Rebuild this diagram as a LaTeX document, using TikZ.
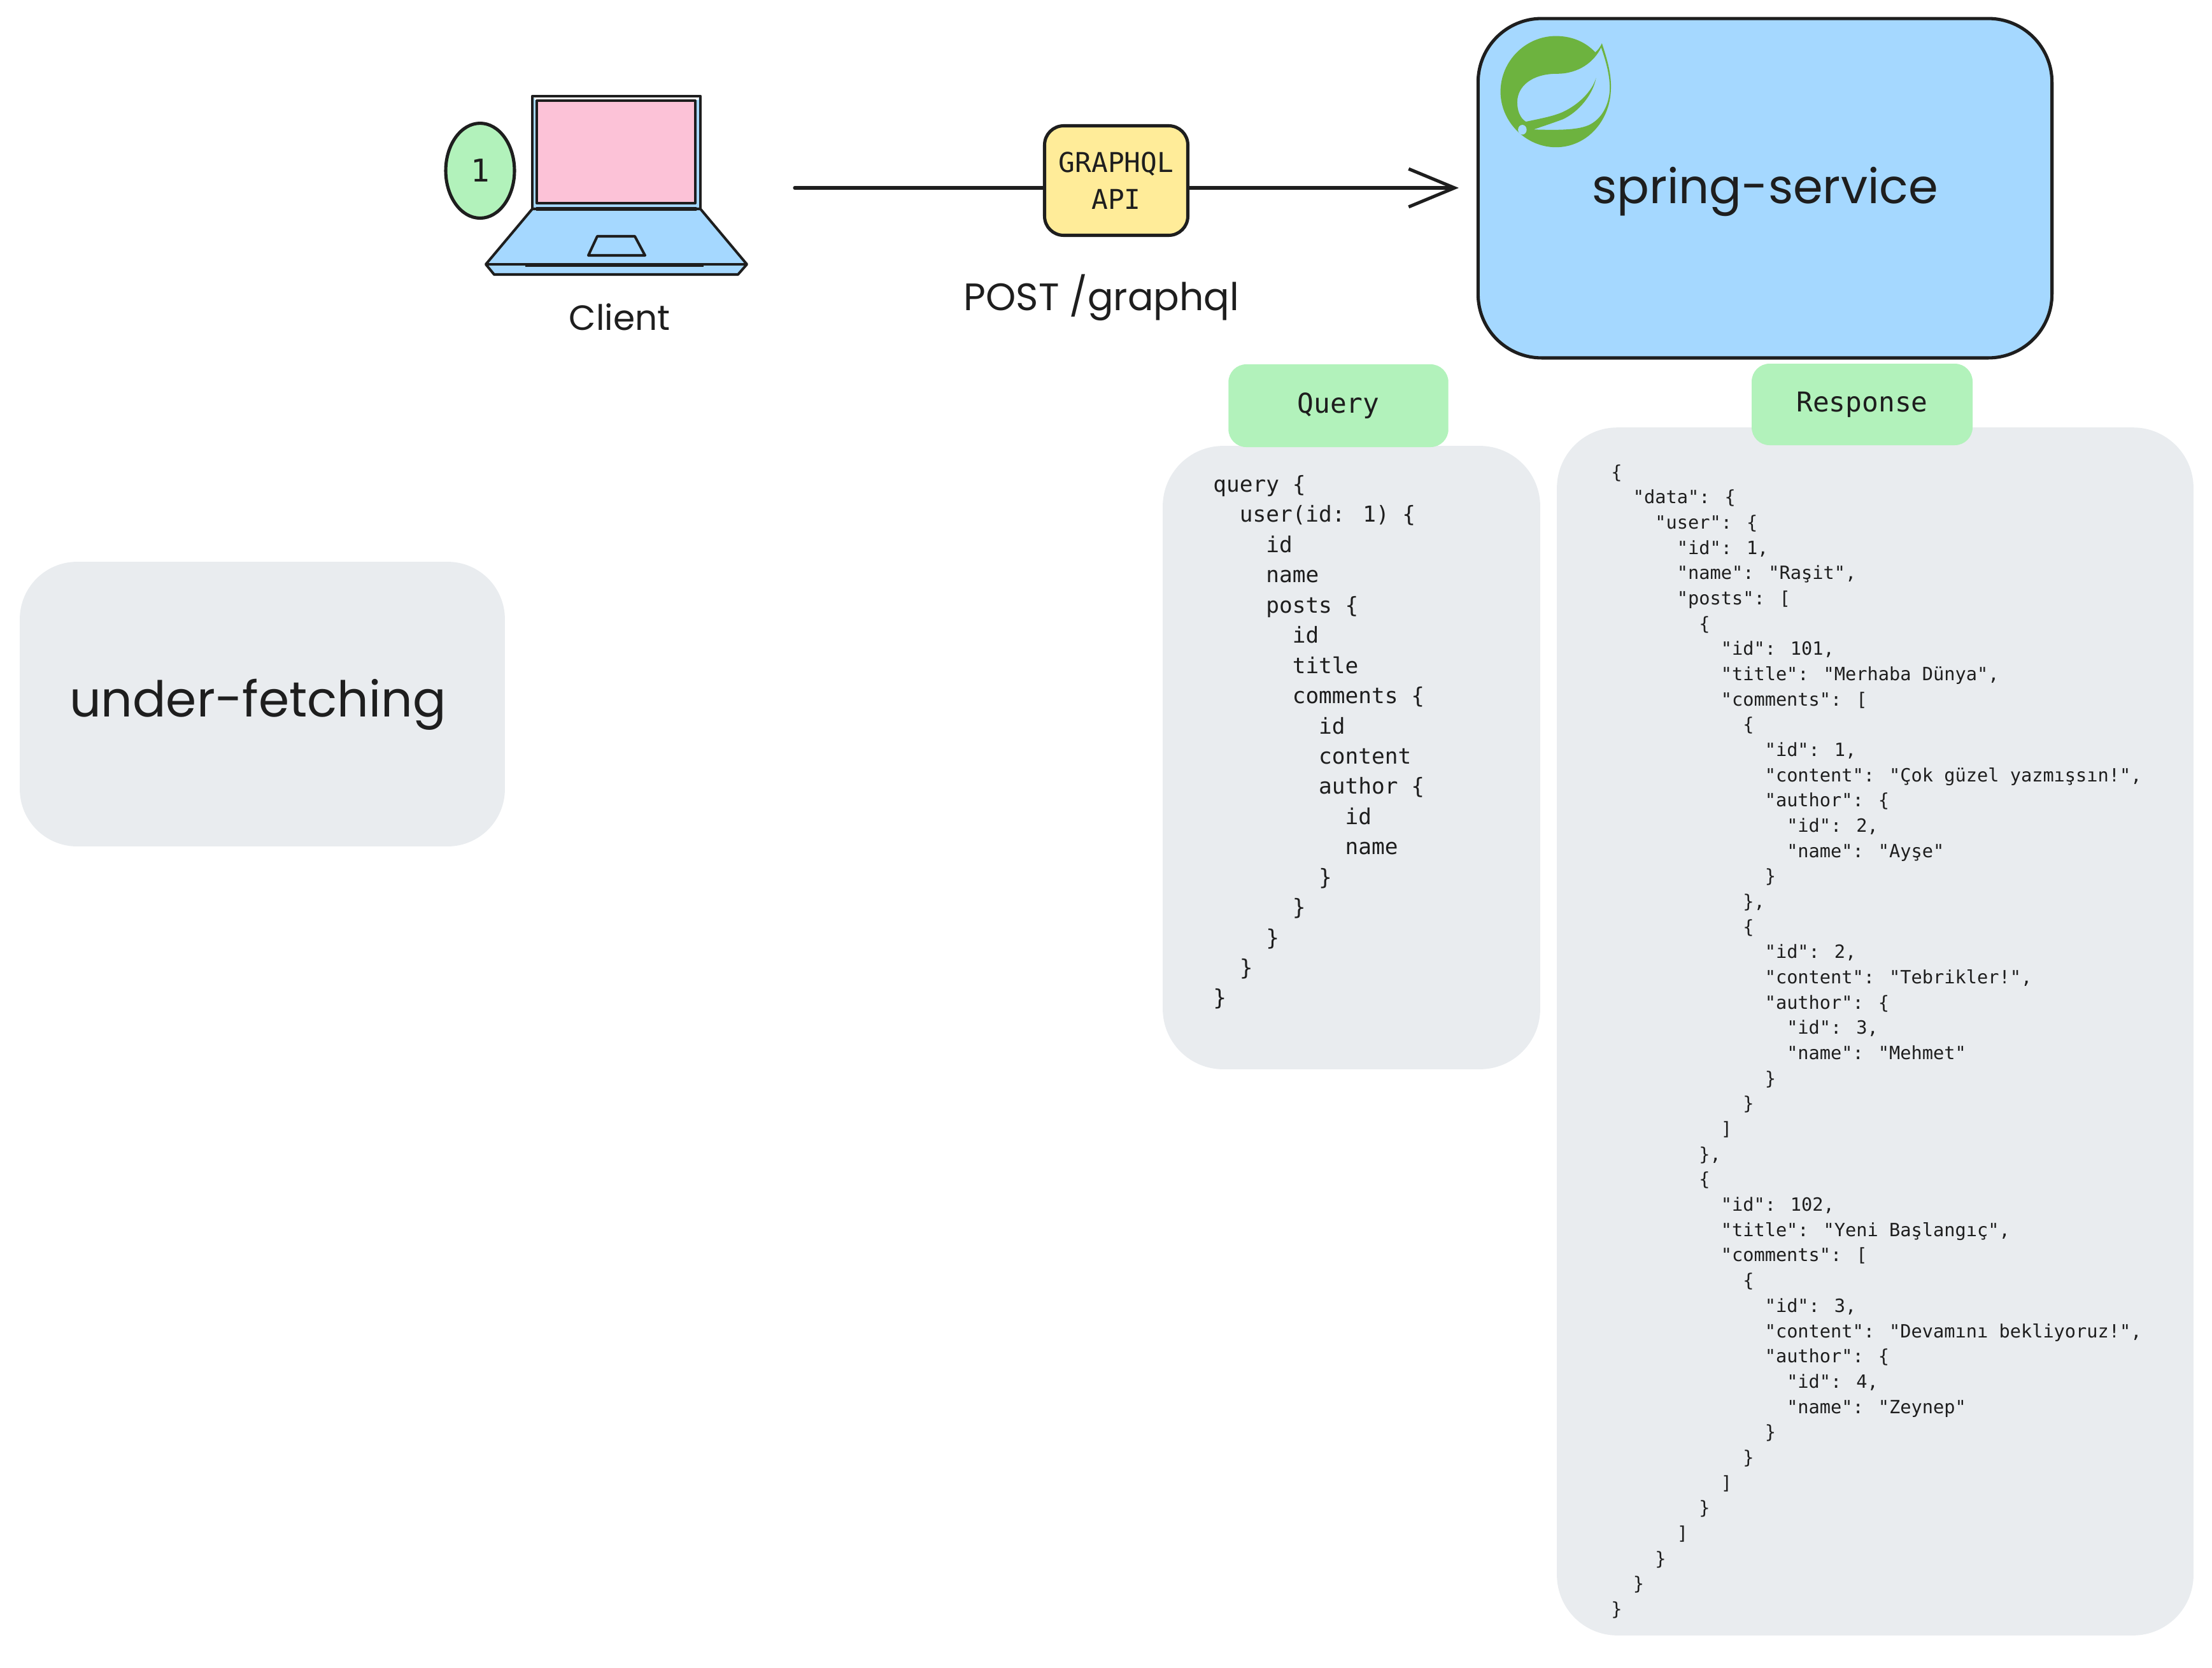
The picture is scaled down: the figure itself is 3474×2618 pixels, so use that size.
\documentclass[tikz,border=0pt]{standalone}
\usepackage{fontspec}
\usetikzlibrary{arrows.meta,shapes.geometric}
\setmainfont{Poppins}
\newfontfamily\codefont{DejaVu Sans Mono}
\definecolor{inkblack}{HTML}{1E1E1E}
\definecolor{skyblue}{HTML}{A5D8FF}
\definecolor{mintgreen}{HTML}{B2F2BB}
\definecolor{panelgray}{HTML}{E9ECEF}
\definecolor{softpink}{HTML}{FCC2D7}
\definecolor{softyellow}{HTML}{FFEC99}
\definecolor{leafgreen}{HTML}{6DB33F}
\newcommand{\tb}[1]{\hspace*{#1\fontcharwd\font`a}}
\tikzset{
  flow/.style={draw=inkblack, line width=2.9pt, line cap=round},
  laptopline/.style={draw=inkblack, line width=2.3pt, line join=round},
  panel/.style={fill=panelgray, inner sep=0pt, rounded corners=1.9cm},
  tagbox/.style={fill=mintgreen, inner sep=0pt, rounded corners=0.56cm, text=inkblack,
    font=\codefont\fontsize{24.4}{33}\selectfont},
  codetext/.style={anchor=north west, inner sep=0pt, align=left, text=inkblack},
  handtext/.style={inner sep=0pt, text=inkblack}
}
\begin{document}
\begin{tikzpicture}[x=0.02cm, y=-0.02cm]
  \useasboundingbox (0,0) rectangle (3474,2618);

  % Drawing the laptop
  \fill[skyblue] (836,154) rectangle (1100,328);
  \fill[white] (840,153) rectangle (1097,157);
  \fill[softpink] (843,158) rectangle (1092,319);
  \draw[laptopline, line width=2.6pt] (836,151) -- (1100,151) -- (1100,328) -- (836,328) -- cycle;
  \draw[laptopline] (843,158) -- (1092,158) -- (1092,319) -- (843,319) -- cycle;
  \draw[laptopline, fill=skyblue] (836,328) -- (1100,328) -- (1173,415) -- (1159,431)
    -- (776,431) -- (763,415) -- cycle;
  \draw[laptopline, line width=3.6pt] (842,328) -- (1094,328);
  \draw[laptopline] (763,415) -- (1173,415);
  \draw[laptopline, line width=1.6pt] (825,418) -- (1105,418);
  \draw[laptopline] (938,371) -- (997,371) -- (1013,401) -- (924,401) -- cycle;

  % Badge and label of the client
  \node[ellipse, draw=inkblack, line width=2.9pt, fill=mintgreen, inner sep=0pt,
    minimum width=2.16cm, minimum height=2.98cm, text=inkblack,
    font=\codefont\fontsize{28}{33}\selectfont] (badge) at (754,268) {1};
  \node[handtext, font=\fontsize{31.3}{36}\selectfont] (clientlabel) at (973,498) {Client};

  % Service box with the leaf on top of it
  \node[fill=skyblue, draw=inkblack, line width=2.9pt, rounded corners=2cm, inner sep=0pt,
    minimum width=18.03cm, minimum height=10.66cm] (service) at (2772,295.5) {};
  \node[handtext, font=\fontsize{42.8}{50}\selectfont] (servicelabel) at (2772,301) {spring-service};
  \begin{scope}[shift={(2280,0)}, x=0.01225cm, y=-0.00765cm]
    \fill[leafgreen, even odd rule]
      (385,178) .. controls (400,250) and (410,310) .. (408,370)
      .. controls (405,500) and (345,605) .. (267,605)
      .. controls (190,605) and (125,500) .. (125,377)
      .. controls (125,250) and (190,148) .. (267,148)
      .. controls (310,148) and (345,175) .. (368,215)
      .. controls (375,205) and (380,195) .. (385,178) -- cycle
      (383,195) .. controls (365,255) and (325,303) .. (270,303)
      .. controls (205,303) and (168,355) .. (168,420)
      .. controls (168,455) and (175,485) .. (190,500)
      .. controls (225,488) and (260,478) .. (285,460)
      .. controls (325,430) and (360,375) .. (370,320)
      .. controls (362,390) and (325,460) .. (285,490)
      .. controls (260,505) and (235,518) .. (210,532)
      .. controls (270,535) and (320,535) .. (350,515)
      .. controls (385,490) and (403,430) .. (405,370)
      .. controls (406,310) and (395,250) .. (383,195) -- cycle;
    \fill[skyblue] (181,533) ellipse [x radius=11, y radius=20];
  \end{scope}

  % Request line through the API box
  \coordinate (clientout) at (1248,295);
  \coordinate (servicein) at (2291,295);
  \node[fill=softyellow, draw=inkblack, line width=2.9pt, rounded corners=0.6cm, inner sep=0pt,
    minimum width=4.5cm, minimum height=3.44cm, align=center, text=inkblack,
    font=\codefont\fontsize{24.4}{33}\selectfont] (api) at (1753,283.5) {GRAPHQL\\API};
  \draw[flow] (clientout) -- (api.west |- clientout);
  \draw[flow, -{Straight Barb[length=41pt, width=34pt, line width=2.9pt]}] (api.east |- clientout) -- (servicein);
  \node[handtext, font=\fontsize{34.2}{40}\selectfont] (endpoint) at (1730,467) {POST /graphql};

  % Left side title
  \node[panel, rounded corners=1.8cm, minimum width=15.24cm, minimum height=8.94cm] (title) at (412,1105.5) {};
  \node[handtext, font=\fontsize{44.2}{52}\selectfont] (titlelabel) at (405,1106) {under-fetching};

  % Query panel
  \node[panel, minimum width=11.86cm, minimum height=19.58cm] (querypanel) at (2122.5,1189.5) {};
  \node[tagbox, minimum width=6.91cm, minimum height=2.6cm] (querytag) at (2102,637) {Query};
  \node[codetext, font=\codefont\fontsize{19.6}{27}\selectfont] (querycode) at (1905,746) {%
query \{\\
\tb{2}user(id: 1) \{\\
\tb{4}id\\
\tb{4}name\\
\tb{4}posts \{\\
\tb{6}id\\
\tb{6}title\\
\tb{6}comments \{\\
\tb{8}id\\
\tb{8}content\\
\tb{8}author \{\\
\tb{10}id\\
\tb{10}name\\
\tb{8}\}\\
\tb{6}\}\\
\tb{4}\}\\
\tb{2}\}\\
\}};

  % Response panel
  \node[panel, minimum width=20cm, minimum height=37.94cm] (responsepanel) at (2945,1619.5) {};
  \node[tagbox, minimum width=6.94cm, minimum height=2.56cm] (responsetag) at (2924.5,635) {Response};
  \node[codetext, font=\codefont\fontsize{16.3}{22.58}\selectfont] (responsecode) at (2530,729) {%
\{\\
\tb{2}"data": \{\\
\tb{4}"user": \{\\
\tb{6}"id": 1,\\
\tb{6}"name": "Raşit",\\
\tb{6}"posts": [\\
\tb{8}\{\\
\tb{10}"id": 101,\\
\tb{10}"title": "Merhaba Dünya",\\
\tb{10}"comments": [\\
\tb{12}\{\\
\tb{14}"id": 1,\\
\tb{14}"content": "Çok güzel yazmışsın!",\\
\tb{14}"author": \{\\
\tb{16}"id": 2,\\
\tb{16}"name": "Ayşe"\\
\tb{14}\}\\
\tb{12}\},\\
\tb{12}\{\\
\tb{14}"id": 2,\\
\tb{14}"content": "Tebrikler!",\\
\tb{14}"author": \{\\
\tb{16}"id": 3,\\
\tb{16}"name": "Mehmet"\\
\tb{14}\}\\
\tb{12}\}\\
\tb{10}]\\
\tb{8}\},\\
\tb{8}\{\\
\tb{10}"id": 102,\\
\tb{10}"title": "Yeni Başlangıç",\\
\tb{10}"comments": [\\
\tb{12}\{\\
\tb{14}"id": 3,\\
\tb{14}"content": "Devamını bekliyoruz!",\\
\tb{14}"author": \{\\
\tb{16}"id": 4,\\
\tb{16}"name": "Zeynep"\\
\tb{14}\}\\
\tb{12}\}\\
\tb{10}]\\
\tb{8}\}\\
\tb{6}]\\
\tb{4}\}\\
\tb{2}\}\\
\}};
\end{tikzpicture}
\end{document}
